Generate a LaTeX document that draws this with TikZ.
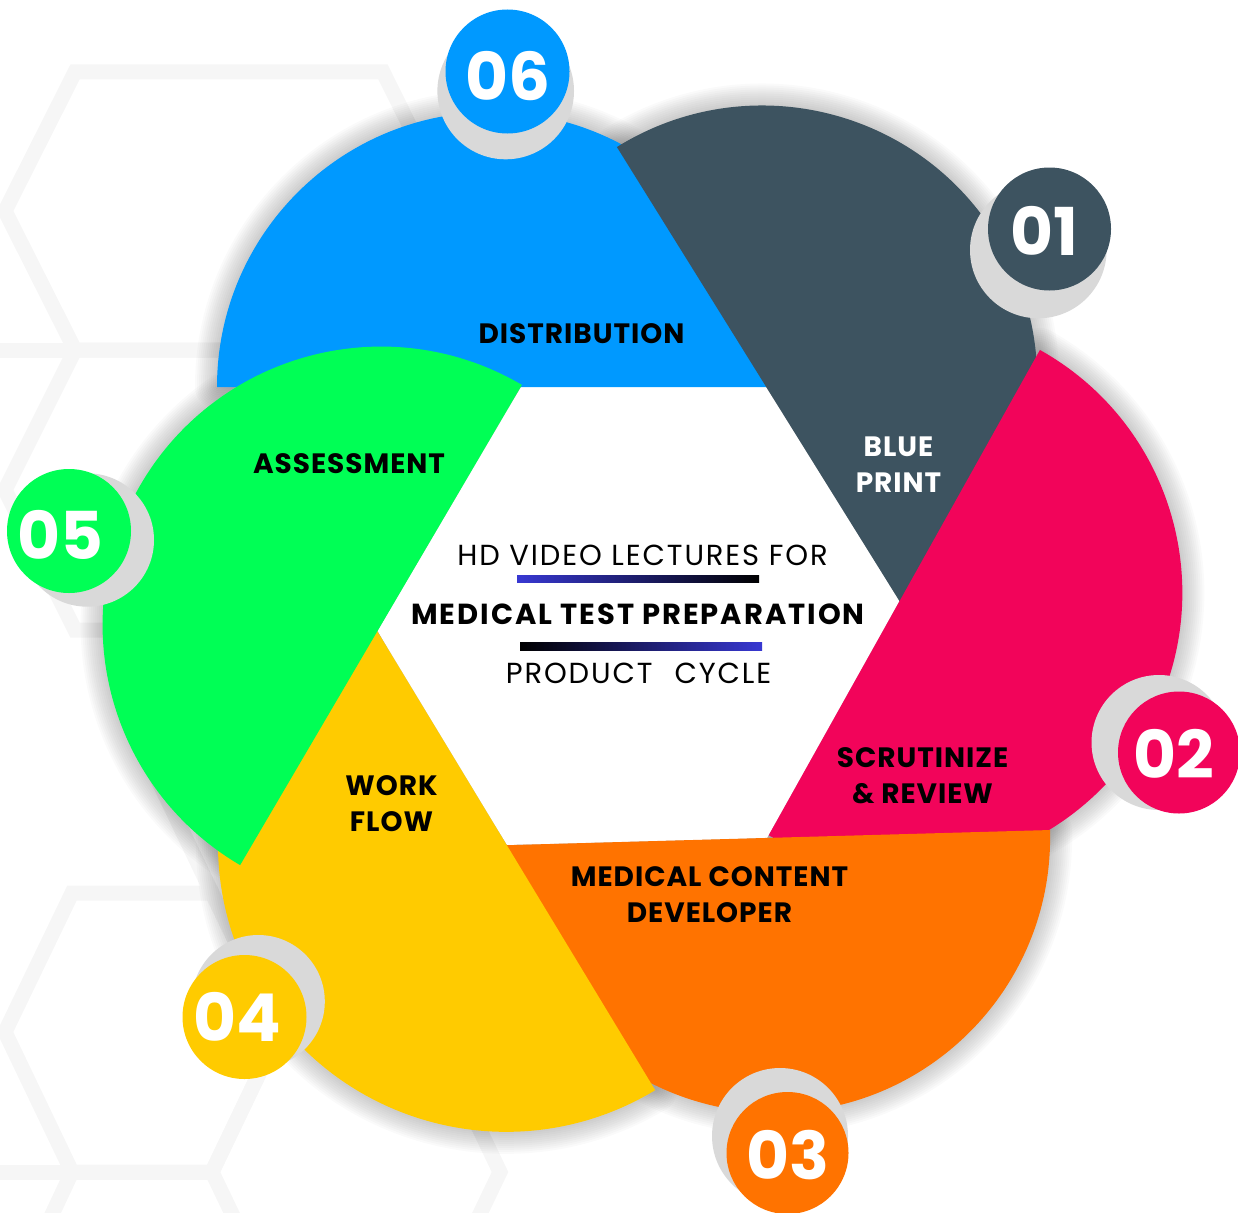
\documentclass[tikz,border=0pt]{standalone}
\usepackage{fontspec}
\setmainfont{Poppins}
\definecolor{pblue}{RGB}{0,153,255}
\definecolor{pdark}{RGB}{61,83,96}
\definecolor{ppink}{RGB}{242,4,90}
\definecolor{porange}{RGB}{255,115,0}
\definecolor{pyellow}{RGB}{255,203,0}
\definecolor{pgreen}{RGB}{0,255,85}
\definecolor{bshadow}{RGB}{217,217,217}
\definecolor{hexline}{RGB}{246,246,246}
\definecolor{barblue}{RGB}{56,56,210}
\tikzset{
  petal/.style n args={4}{insert path={(#1,#2) ++(#4:#3) arc[start angle=#4, delta angle=-180, radius=#3] -- cycle}},
  petallabel/.style={inner sep=0pt, align=center, font=\fontsize{28}{36}\selectfont\bfseries\addfontfeature{LetterSpace=3.5}},
  centertext/.style={inner sep=0pt, font=\fontsize{29}{34}\selectfont\addfontfeature{LetterSpace=6.5}},
  centerbold/.style={inner sep=0pt, font=\fontsize{29}{34}\selectfont\bfseries\addfontfeature{LetterSpace=6.8}},
  badgedisc/.style={circle, inner sep=0pt, minimum size=#1},
  badgenum/.style={inner sep=0pt, text=white, font=\fontsize{66}{66}\selectfont\bfseries},
  bgline/.style={draw=hexline, line width=15pt, line join=miter},
}
\begin{document}
\begin{tikzpicture}[x=1pt,y=1pt]
\useasboundingbox (0,0) rectangle (1238,-1212);
\clip (0,0) rectangle (1238,-1212);
% faint background honeycomb
\draw[bgline] (75,-72) -- (383,-72) -- (452,-211) -- (383,-350) -- (75,-350) -- (5,-211) -- cycle;
\draw[bgline] (-10,-350) -- (75,-350);
\draw[bgline] (75,-350) -- (383,-350) -- (452,-490) -- (383,-630) -- (75,-630) -- (5,-490) -- cycle;
\draw[bgline] (72,-893) -- (212,-893) -- (279,-1032) -- (212,-1172) -- (72,-1172) -- (5,-1032) -- cycle;
\draw[bgline] (212,-1172) -- (279,-1032) -- (433,-1032) -- (500,-1172) -- (433,-1312) -- (279,-1312) -- cycle;
\draw[bgline] (-10,-1172) -- (212,-1172);
\draw[bgline] (72,-1172) -- (40,-1240);
\draw[bgline] (212,-893) -- (145,-753);
% soft shadows of the petals
\foreach \cx/\cy/\pr/\ps in {492/-387/275/180, 762.2/-380.5/275/121.9, 904.3/-592.6/278/60.8, 775.1/-837.7/275/1.6, 506/-843.8/288/-58.8, 381/-625/278.4/239.6}{
  \foreach \w in {4,8,...,44}{
    \draw[black, opacity=0.02, line width=\w pt, line join=round, petal={\cx}{\cy}{\pr}{\ps}];
  }
}
% white centre hexagon
\fill[white] (521,-387) -- (766,-387) -- (899.4,-601) -- (767,-838) -- (507,-845) -- (377.5,-631) -- cycle;
% petals
\fill[pblue]   [petal={492}{-387}{275}{180}];
\fill[pdark]   [petal={762.2}{-380.5}{275}{121.9}];
\fill[ppink]   [petal={904.3}{-592.6}{278}{60.8}];
\fill[porange] [petal={775.1}{-837.7}{275}{1.6}];
\fill[pyellow] [petal={506}{-843.8}{288}{-58.8}];
\fill[pgreen]  [petal={381}{-625}{278.4}{239.6}];
% petal labels
\node[petallabel] (distribution) at (581.5,-333.5) {DISTRIBUTION};
\node[petallabel, text=white] (blueprint) at (898.5,-465) {BLUE\\PRINT};
\node[petallabel] (scrutinize) at (922.5,-776) {SCRUTINIZE\\\& REVIEW};
\node[petallabel] (developer) at (709.5,-895) {MEDICAL CONTENT\\DEVELOPER};
\node[petallabel] (workflow) at (391.5,-804) {WORK\\FLOW};
\node[petallabel] (assessment) at (349,-464) {ASSESSMENT};
% centre text
\node[centertext] (hdline) at (642.5,-555) {HD VIDEO LECTURES FOR};
\node[centerbold] (medline) at (638,-614) {MEDICAL TEST PREPARATION};
\node[centertext] (prodline) at (638.5,-673) {PRODUCT\hspace{22pt}CYCLE};
\shade[left color=barblue, right color=black] (517,-575) rectangle (759,-582);
\shade[left color=black, right color=barblue] (520,-642) rectangle (762,-650);
% badges
\fill[bshadow] (505.7,-91) circle[radius=68.3];
\node[badgedisc=124pt, fill=pblue] (b06) at (507.5,-71.5) {};
\node[badgenum] (t06) at (508,-76) {06};
\fill[bshadow] (1038.3,-250) circle[radius=68.3];
\node[badgedisc=123pt, fill=pdark] (b01) at (1049.5,-229) {};
\node[badgenum] (t01) at (1044.5,-230.5) {01};
\fill[bshadow] (1159,-742.5) circle[radius=67.5];
\node[badgedisc=122pt, fill=ppink] (b02) at (1179,-752.5) {};
\node[badgenum] (t02) at (1174,-753.5) {02};
\fill[bshadow] (780,-1136) circle[radius=68];
\node[badgedisc=122pt, fill=porange] (b03) at (787.5,-1153) {};
\node[badgenum] (t03) at (788,-1155.5) {03};
\fill[bshadow] (258.3,-1001.5) circle[radius=66.5];
\node[badgedisc=124pt, fill=pyellow] (b04) at (244.5,-1017) {};
\node[badgenum] (t04) at (237,-1016.5) {04};
\fill[bshadow] (87.3,-540) circle[radius=66.7];
\node[badgedisc=124pt, fill=pgreen] (b05) at (69,-531) {};
\node[badgenum] (t05) at (60.5,-535) {05};
\end{tikzpicture}
\end{document}
